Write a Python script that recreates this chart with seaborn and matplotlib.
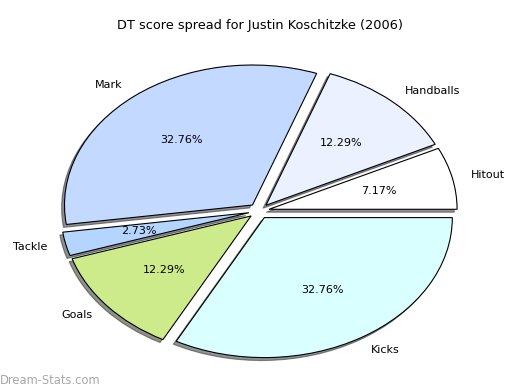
import matplotlib
matplotlib.use("Agg")
import matplotlib.pyplot as plt
import seaborn as sns

# DT points by stat type (share of total)
labels = ["Hitout", "Handballs", "Mark", "Tackle", "Goals", "Kicks"]
points = [21, 36, 96, 8, 36, 96]
colors = ["#FFFFFF", "#EBF1FF", "#C3D9FF", "#B3D5FF", "#CDEB8B", "#D9FFFF"]

sns.set_style("white")
plt.rcParams["font.family"] = ["DejaVu Sans"]
plt.rcParams["text.color"] = "black"

fig = plt.figure(figsize=(5.2, 3.9), dpi=100)
ax = fig.add_axes([0, 0, 1, 1])

wedges, texts, autotexts = ax.pie(
    points,
    labels=labels,
    colors=colors,
    explode=[0.055] * len(points),
    autopct="%.2f%%",
    shadow={"ox": -0.011, "oy": -0.015, "shade": 0.85},
    startangle=0,
    counterclock=True,
    labeldistance=1.1,
    wedgeprops={"edgecolor": "black", "linewidth": 0.8},
    textprops={"fontsize": 8, "color": "black"},
)

# ellipse look: no equal aspect, place centre like the original
ax.set_aspect("auto")
cx, cy, rx, ry = 259, 179, 188, 140
ax.set_xlim(-cx / rx, (520 - cx) / rx)
ax.set_ylim(-cy / ry, (390 - cy) / ry)
ax.axis("off")

fig.text(0.5, 1 - 25 / 390, "DT score spread for Justin Koschitzke (2006)",
         ha="center", va="center", fontsize=9.3, color="black")
fig.text(0.0, 1 - 380 / 390, "Dream-Stats.com", ha="left", va="center",
         fontsize=8.3, color="#A8A8A8")

fig.savefig("out.png", dpi=100)
